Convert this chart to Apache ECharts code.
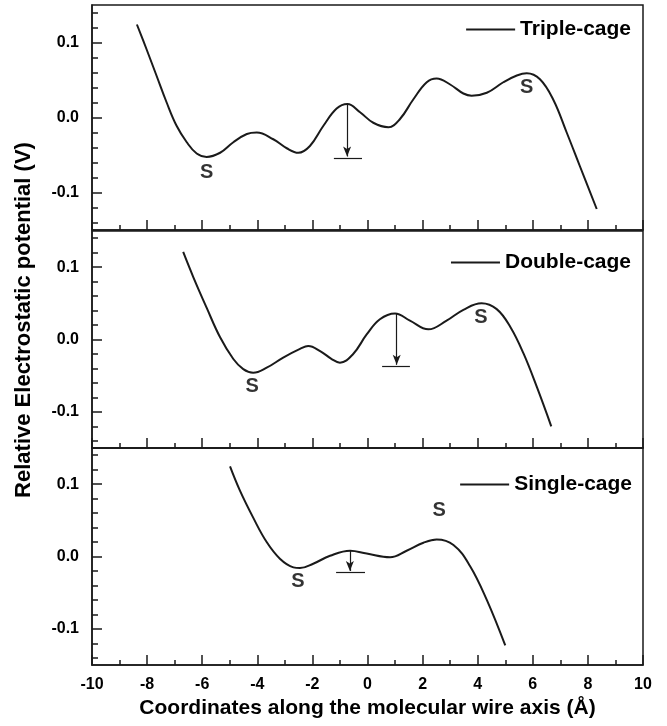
<!DOCTYPE html>
<html>
<head>
<meta charset="utf-8">
<script src="https://cdn.jsdelivr.net/npm/echarts@6/dist/echarts.min.js"></script>
<style>
  html, body { margin: 0; padding: 0; background: #fff; }
  #main { width: 667px; height: 726px; }
</style>
</head>
<body>
<div id="main"></div>
<script>
var chartDom = document.getElementById('main');
var myChart = echarts.init(chartDom);
var option;

// curve data (x in Å, y in V)
var tripleX = [-8.37, -8.02, -7.65, -7.29, -6.93, -6.56, -6.20, -5.84, -5.35, -4.87, -4.38, -4.02, -3.42, -2.93, -2.51, -2.09, -1.60, -1.12, -0.73, -0.27, 0.21, 0.76, 1.18, 1.66, 2.15, 2.51, 3.00, 3.48, 3.78, 4.33, 4.93, 5.42, 5.78, 6.26, 6.74, 7.23, 7.71, 8.32];
var tripleY = [0.124, 0.091, 0.055, 0.020, -0.011, -0.033, -0.048, -0.0525, -0.047, -0.033, -0.022, -0.020, -0.029, -0.041, -0.047, -0.038, -0.011, 0.012, 0.018, 0.007, -0.007, -0.013, -0.002, 0.024, 0.047, 0.052, 0.044, 0.032, 0.029, 0.033, 0.047, 0.056, 0.059, 0.051, 0.024, -0.020, -0.065, -0.122];

var doubleX = [-6.69, -6.32, -5.84, -5.35, -4.87, -4.51, -4.15, -3.66, -3.06, -2.45, -2.15, -1.72, -1.30, -1.00, -0.52, -0.03, 0.45, 1.00, 1.54, 2.21, 2.87, 3.48, 4.14, 4.69, 5.19, 5.67, 6.16, 6.67];
var doubleY = [0.121, 0.086, 0.044, 0.003, -0.027, -0.041, -0.046, -0.039, -0.025, -0.013, -0.009, -0.016, -0.027, -0.032, -0.020, 0.007, 0.028, 0.036, 0.026, 0.014, 0.026, 0.041, 0.050, 0.042, 0.017, -0.020, -0.067, -0.120];

var singleX = [-4.99, -4.63, -4.14, -3.66, -3.18, -2.69, -2.45, -1.97, -1.36, -0.63, -0.03, 0.82, 1.42, 2.03, 2.51, 3.12, 3.72, 4.33, 5.00];
var singleY = [0.1245, 0.091, 0.053, 0.020, -0.003, -0.015, -0.016, -0.010, 0.001, 0.008, 0.004, -0.001, 0.008, 0.019, 0.0235, 0.016, -0.013, -0.060, -0.123];

var names = ['Triple-cage', 'Double-cage', 'Single-cage'];

// "S" label positions
var sX = [[-5.84, 5.78], [-4.19, 4.12], [-2.53, 2.60]];
var sY = [[-0.073, 0.040], [-0.065, 0.030], [-0.035, 0.063]];

// arrows: from peak down to a short bar
var arrowX = [-0.74, 1.06, -0.64];
var arrowTop = [0.018, 0.036, 0.009];
var arrowBottom = [-0.054, -0.037, -0.022];
var barLeft = [-1.22, 0.53, -1.14];
var barRight = [-0.20, 1.54, -0.09];

// axis ticks
var yMajor = [-0.1, 0, 0.1];
var yMinor = [-0.14, -0.12, -0.08, -0.06, -0.04, -0.02, 0.02, 0.04, 0.06, 0.08, 0.12, 0.14];

var curvesX = [tripleX, doubleX, singleX];
var curvesY = [tripleY, doubleY, singleY];

function pairs(xs, ys) {
  var d = [];
  for (var i = 0; i < xs.length; i++) d.push([xs[i], ys[i]]);
  return d;
}

var FONT = "'Liberation Sans', Arial, sans-serif";
var INK = '#1a1a1a';

var grids = [
  { left: 92, right: 24, top: 5, height: 225 },
  { left: 92, right: 24, top: 231, height: 217 },
  { left: 92, right: 24, top: 448, height: 217 }
];
var legendTops = [14, 247, 469];
var legendRights = [31, 31, 30];

var xAxes = [], yAxes = [], series = [], legends = [];
for (var p = 0; p < 3; p++) {
  grids[p].show = true;
  grids[p].borderColor = INK;
  grids[p].borderWidth = 1.5;
  xAxes.push({
    gridIndex: p,
    type: 'value',
    min: -10,
    max: 10,
    interval: 2,
    axisLine: { show: true, onZero: false, lineStyle: { color: INK, width: 1.5 } },
    axisTick: { show: true, inside: true, length: 10, lineStyle: { color: INK, width: 1.5 } },
    minorTick: { show: true, splitNumber: 2, length: 5, lineStyle: { color: INK, width: 1.5 } },
    splitLine: { show: false },
    axisLabel: {
      show: p === 2,
      margin: 12,
      color: '#000',
      fontFamily: FONT,
      fontWeight: 'bold',
      fontSize: 16
    },
    name: p === 2 ? 'Coordinates along the molecular wire axis (\u00C5)' : '',
    nameLocation: 'middle',
    nameGap: 33,
    nameTextStyle: { color: '#000', fontFamily: FONT, fontWeight: 'bold', fontSize: 21 }
  });
  // major ticks + labels
  yAxes.push({
    gridIndex: p,
    type: 'value',
    min: -0.15,
    max: 0.15,
    position: 'left',
    axisLine: { show: true, onZero: false, lineStyle: { color: INK, width: 1.5 } },
    axisTick: { show: true, inside: true, length: 10, customValues: yMajor, lineStyle: { color: INK, width: 1.5 } },
    splitLine: { show: false },
    axisLabel: {
      customValues: yMajor,
      margin: 13,
      color: '#000',
      fontFamily: FONT,
      fontWeight: 'bold',
      fontSize: 16,
      formatter: function (v) { return v.toFixed(1); }
    }
  });
  // minor ticks
  yAxes.push({
    gridIndex: p,
    type: 'value',
    min: -0.15,
    max: 0.15,
    position: 'left',
    offset: 0,
    axisLine: { show: false, onZero: false },
    axisTick: { show: true, inside: true, length: 6, customValues: yMinor, lineStyle: { color: INK, width: 1.5 } },
    splitLine: { show: false },
    axisLabel: { show: false }
  });

  series.push({
    name: names[p],
    type: 'line',
    xAxisIndex: p,
    yAxisIndex: 2 * p,
    smooth: 0.4,
    symbol: 'none',
    lineStyle: { color: INK, width: 2 },
    itemStyle: { color: INK },
    data: pairs(curvesX[p], curvesY[p]),
    markLine: {
      silent: true,
      symbol: ['none', 'arrow'],
      symbolSize: [6, 10],
      label: { show: false },
      lineStyle: { color: INK, width: 1.2, type: 'solid' },
      data: [
        [{ coord: [arrowX[p], arrowTop[p]] }, { coord: [arrowX[p], arrowBottom[p] + 0.002] }],
        [{ coord: [barLeft[p], arrowBottom[p]], symbol: 'none' }, { coord: [barRight[p], arrowBottom[p]], symbol: 'none' }]
      ]
    }
  });
  series.push({
    type: 'scatter',
    xAxisIndex: p,
    yAxisIndex: 2 * p,
    symbolSize: 1,
    itemStyle: { color: 'rgba(0,0,0,0)' },
    label: {
      show: true,
      position: 'inside',
      formatter: 'S',
      color: '#000',
      fontFamily: FONT,
      fontWeight: 'bold',
      fontSize: 20
    },
    data: pairs(sX[p], sY[p])
  });
  legends.push({
    data: [{ name: names[p], icon: 'rect' }],
    right: legendRights[p],
    top: legendTops[p],
    itemWidth: 49,
    itemHeight: 1.8,
    itemStyle: { color: INK },
    textStyle: { color: '#000', fontFamily: FONT, fontWeight: 'bold', fontSize: 21 }
  });
}

option = {
  animation: false,
  backgroundColor: '#fff',
  grid: grids,
  xAxis: xAxes,
  yAxis: yAxes,
  legend: legends,
  graphic: [{
    type: 'text',
    x: 24,
    y: 320,
    rotation: Math.PI / 2,
    style: {
      text: 'Relative Electrostatic potential (V)',
      fill: '#000',
      font: 'bold 22px ' + FONT,
      align: 'center',
      verticalAlign: 'middle'
    }
  }],
  series: series
};

myChart.setOption(option);
</script>
</body>
</html>
